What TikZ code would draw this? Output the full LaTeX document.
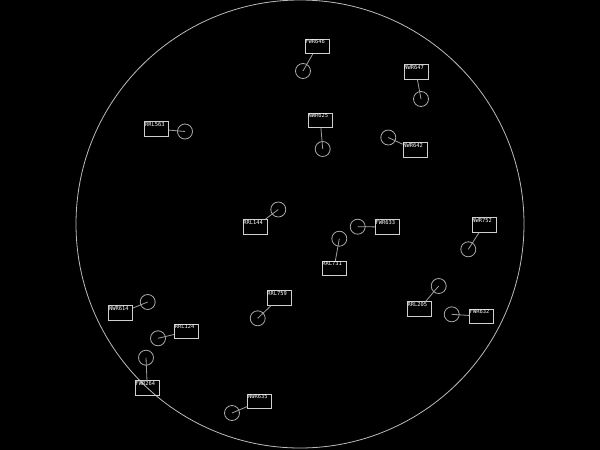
\documentclass[tikz,border=0pt]{standalone}
\usepackage{fontspec}
\newfontfamily\monofont{DejaVu Sans Mono}
\definecolor{boxc}{HTML}{D0D0D0}
\definecolor{circc}{HTML}{AAAAAA}
\definecolor{linec}{HTML}{A0A0A0}
\definecolor{bigc}{HTML}{BBBBBB}
\tikzset{
  tagbox/.style={draw=boxc, line width=0.8pt, minimum width=24pt, minimum height=14.5pt, inner sep=0pt},
  tagtext/.style={anchor=north west, inner sep=0.6pt, text=white, font=\monofont\fontsize{5.4}{5.4}\selectfont},
  ring/.style={draw=circc, line width=0.8pt, circle, minimum size=15pt, inner sep=0pt},
  link/.style={draw=linec, line width=0.8pt},
}
\newcommand{\tagunit}[6]{%
  \node[ring] (c#1) at (#4,#5) {};
  \node[tagbox, label={[tagtext]north west:#6}] (b#1) at (#2,#3) {};
  \draw[link] (c#1.center) -- (b#1);
}
\begin{document}
\begin{tikzpicture}[x=1pt,y=-1pt]
\fill[black] (0,0) rectangle (600,450);
\useasboundingbox (0,0) rectangle (600,450);
\node[draw=bigc, line width=0.8pt, circle, minimum size=448pt, inner sep=0pt] (world) at (300,224) {};
\tagunit{a}{317}{46.5}{303}{71}{FWR646}
\tagunit{b}{416}{72}{421}{99}{NWR647}
\tagunit{c}{156.7}{129}{185}{131.5}{RRL563}
\tagunit{d}{320.3}{120.5}{322.7}{149}{NWR625}
\tagunit{e}{415}{150}{388.3}{137.5}{NWR642}
\tagunit{f}{255}{227}{278.3}{209.5}{RRL144}
\tagunit{g}{387.3}{227}{357.7}{226.7}{FWR633}
\tagunit{h}{334}{268.5}{339.3}{238.7}{RRL731}
\tagunit{i}{484}{225}{468.3}{249.3}{NWR752}
\tagunit{j}{279}{298}{257.7}{318.3}{RRL759}
\tagunit{k}{120.7}{313}{147.7}{302}{NWR614}
\tagunit{l}{186.5}{331.5}{158}{338.3}{RRL124}
\tagunit{m}{419.3}{309}{438.7}{286}{RRL205}
\tagunit{n}{481.5}{316.3}{451.7}{314.3}{FWR632}
\tagunit{o}{147.3}{388}{146}{357.7}{FWR264}
\tagunit{p}{259.7}{401.3}{232}{413}{NWR635}
\end{tikzpicture}
\end{document}
